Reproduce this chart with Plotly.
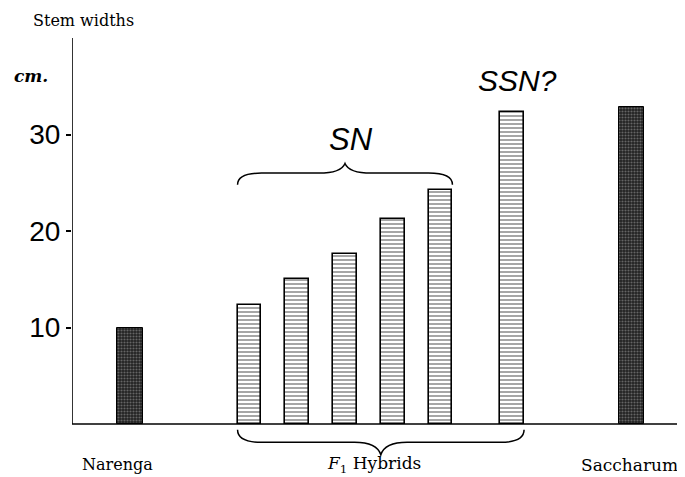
import plotly.graph_objects as go

# ---- data ----
end_names = ["Narenga", "Saccharum"]
end_values = [10.0, 32.8]
hybrid_values = [12.3, 15.0, 17.6, 21.2, 24.2, 32.3]
ytick_vals = [10, 20, 30]
ytick_text = ["10", "20", "30"]
group_labels = ["<i>F</i><sub>1</sub> Hybrids"]
brace_labels = ["<i>SN</i>", "<i>SSN?</i>"]

# ---- layout positions (slot positions on the x axis) ----
end_pos = [0, 10.5]
hybrid_pos = [2.5, 3.5, 4.5, 5.5, 6.5, 8]

# page has an 8px body margin, so the figure is sized to fit inside it
W, H = 677, 469
L, T = 64, 30
YMAX = 40
YMIN = -5.49
XMIN, XMAX = -1.217, 11.62

fig = go.Figure()

fig.add_trace(go.Bar(
    x=end_pos, y=end_values, width=0.54,
    marker=dict(color="#222222",
                line=dict(color="black", width=1),
                pattern=dict(shape=".", fgcolor="#a8a8a8", bgcolor="#222222",
                             size=3, solidity=0.4)),
    showlegend=False, hoverinfo="y"))

fig.add_trace(go.Bar(
    x=hybrid_pos, y=hybrid_values, width=0.5,
    marker=dict(color="white",
                line=dict(color="black", width=1.6),
                pattern=dict(shape="-", fgcolor="black", bgcolor="white",
                             size=4, solidity=0.35)),
    showlegend=False, hoverinfo="y"))

shapes = []
# axes lines
shapes.append(dict(type="line", xref="x", yref="y", x0=XMIN, x1=XMIN, y0=0, y1=YMAX,
                   line=dict(color="black", width=1.6)))
shapes.append(dict(type="line", xref="x", yref="y", x0=XMIN, x1=XMAX - 0.15, y0=0, y1=0,
                   line=dict(color="black", width=1.6)))


def brace(xl, xr, ye, yf, yt, d=0.5, e=0.55):
    xm = (xl + xr) / 2
    p = (f"M {xl},{ye} Q {xl},{yf} {xl + d},{yf} "
         f"L {xm - e},{yf} Q {xm - 0.15 * e},{yf} {xm},{yt} "
         f"Q {xm + 0.15 * e},{yf} {xm + e},{yf} "
         f"L {xr - d},{yf} Q {xr},{yf} {xr},{ye}")
    return dict(type="path", xref="x", yref="y", path=p,
                line=dict(color="black", width=1.5))


hw = 0.25
# top brace over the first five hybrids (SN)
top_l, top_r = hybrid_pos[0] - hw, hybrid_pos[4] + hw
shapes.append(brace(top_l, top_r, 24.8, 26.0, 27.0))
# bottom brace under all hybrids
bot_l, bot_r = hybrid_pos[0] - hw, hybrid_pos[-1] + hw
shapes.append(brace(bot_l, bot_r, -0.6, -1.9, -3.2))

annotations = []
serif = "DejaVu Serif"
annotations.append(dict(x=end_pos[0], y=-4.2, xref="x", yref="y", text=end_names[0],
                        showarrow=False, xshift=-13,
                        font=dict(family=serif, size=16, color="black")))
annotations.append(dict(x=end_pos[1], y=-4.2, xref="x", yref="y", text=end_names[1],
                        showarrow=False, xshift=-2,
                        font=dict(family=serif, size=17, color="black")))
annotations.append(dict(x=(bot_l + bot_r) / 2, y=-4.2, xref="x", yref="y",
                        text=group_labels[0], showarrow=False, xshift=-7,
                        font=dict(family=serif, size=17, color="black")))
annotations.append(dict(x=(top_l + top_r) / 2, y=29.5, xref="x", yref="y",
                        text=brace_labels[0], showarrow=False, xshift=6,
                        font=dict(family="Liberation Sans", size=31, color="black")))
annotations.append(dict(x=hybrid_pos[-1], y=35.6, xref="x", yref="y",
                        text=brace_labels[1], showarrow=False, xshift=5,
                        font=dict(family="Liberation Sans", size=30, color="black")))
annotations.append(dict(x=-0.0669, y=1.041, xref="paper", yref="paper",
                        text="Stem widths", showarrow=False, xanchor="left",
                        yanchor="middle",
                        font=dict(family=serif, size=16, color="black")))
annotations.append(dict(x=-0.0979, y=0.913, xref="paper", yref="paper",
                        text="<b><i>cm.</i></b>", showarrow=False, xanchor="left",
                        yanchor="middle",
                        font=dict(family=serif, size=17, color="black")))

fig.update_layout(
    width=W, height=H,
    margin=dict(l=L, r=0, t=T, b=0),
    paper_bgcolor="white", plot_bgcolor="white",
    bargap=0,
    shapes=shapes,
    annotations=annotations,
    xaxis=dict(range=[XMIN, XMAX], showgrid=False, zeroline=False, showline=False,
               showticklabels=False, ticks=""),
    yaxis=dict(range=[YMIN, YMAX], showgrid=False, zeroline=False, showline=False,
               tickvals=ytick_vals, ticktext=ytick_text, ticks="outside",
               ticklen=5, tickwidth=1.5, tickcolor="black",
               tickfont=dict(family="Liberation Sans", size=28, color="black")),
)

fig.write_html("out.html")
